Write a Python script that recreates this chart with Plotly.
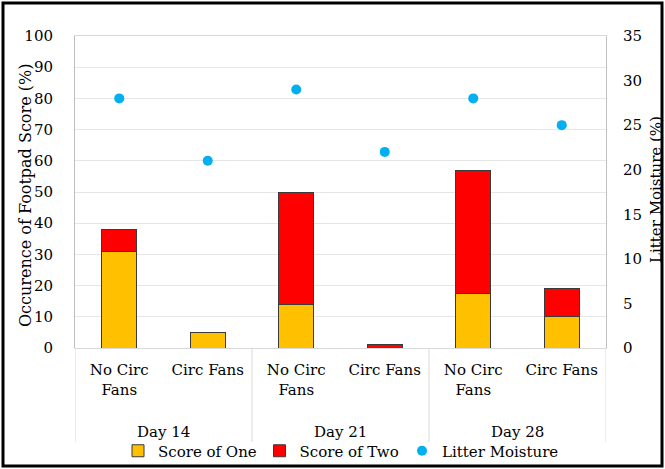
import plotly.graph_objects as go

days = ["Day 14", "Day 21", "Day 28"]
treatments = ["No Circ<br>Fans", "Circ Fans", "No Circ<br>Fans", "Circ Fans", "No Circ<br>Fans", "Circ Fans"]
score_one = [31, 5, 14, 0, 17.5, 10]
score_two = [7, 0, 36, 1, 39.5, 9]
litter_moisture = [28, 21, 29, 22, 28, 25]

FONT = "DejaVu Serif"
pos = list(range(len(treatments)))

fig = go.Figure()
fig.add_trace(go.Bar(x=pos, y=score_one, name="Score of One", legend="legend",
                     marker=dict(color="#FFC000", line=dict(color="#3A3A3A", width=1)),
                     width=0.4))
fig.add_trace(go.Bar(x=pos, y=score_two, name="Score of Two", legend="legend2",
                     marker=dict(color="#FF0000", line=dict(color="#3A3A3A", width=1)),
                     width=0.4))
fig.add_trace(go.Scatter(x=pos, y=litter_moisture, name="Litter Moisture", mode="markers",
                         yaxis="y2", legend="legend3",
                         marker=dict(color="#00B0F0", size=10)))

W, H = 665, 469
L, R, T, B = 75, 59, 36, 121
pw, ph = W - L - R, H - T - B

def px_x(p):
    return (p - L) / pw

def px_y(p):
    return (H - B - p) / ph

n_per_group = len(treatments) // len(days)
annotations = []
shapes = []
for i, d in enumerate(days):
    annotations.append(dict(text=d, x=i * n_per_group + (n_per_group - 1) / 2, xref="x",
                            y=px_y(432), yref="paper", showarrow=False,
                            xanchor="center", yanchor="middle", font=dict(size=15)))
annotations.append(dict(text="Occurence of Footpad Score (%)", textangle=-90,
                        x=px_x(25), xref="paper", y=px_y(196), yref="paper",
                        showarrow=False, xanchor="center", yanchor="middle",
                        font=dict(size=16)))
annotations.append(dict(text="Litter Moisture (%)", textangle=-90,
                        x=px_x(656), xref="paper", y=px_y(190), yref="paper",
                        showarrow=False, xanchor="center", yanchor="middle",
                        font=dict(size=15)))
for k in range(len(days) + 1):
    shapes.append(dict(type="line", xref="x", yref="paper",
                       x0=k * n_per_group - 0.5, x1=k * n_per_group - 0.5,
                       y0=0, y1=px_y(442), line=dict(color="#D9D9D9", width=1)))
shapes.append(dict(type="rect", xref="paper", yref="paper",
                   x0=px_x(3), x1=px_x(662), y0=px_y(466), y1=px_y(3),
                   line=dict(color="black", width=3)))

def leg(cx):
    return dict(orientation="h", x=px_x(cx), xanchor="center", y=px_y(451), yanchor="middle",
                font=dict(size=15), bgcolor="rgba(0,0,0,0)", itemwidth=30)

fig.update_layout(
    width=W, height=H, autosize=False,
    margin=dict(l=L, r=R, t=T, b=B, autoexpand=False),
    barmode="stack",
    paper_bgcolor="white", plot_bgcolor="white",
    font=dict(family=FONT, size=15, color="#000000"),
    showlegend=True,
    legend=leg(190),
    legend2=leg(332),
    legend3=leg(483),
    xaxis=dict(range=[-0.5, len(treatments) - 0.5], tickvals=pos, ticktext=treatments,
               showline=True, linecolor="#D9D9D9", mirror=True, showgrid=False,
               zeroline=False, ticks="", ticklabelstandoff=8, tickfont=dict(size=15)),
    yaxis=dict(range=[0, 100], dtick=10, showgrid=True, gridcolor="#E6E6E6",
               showline=True, linecolor="#BFBFBF", mirror=True, zeroline=False,
               ticks="", ticklabelstandoff=18),
    yaxis2=dict(range=[0, 35], dtick=5, overlaying="y", side="right", showgrid=False,
                zeroline=False, ticks="", ticklabelstandoff=16),
    annotations=annotations,
    shapes=shapes,
)

fig.write_html("out.html",
               config={"responsive": False, "displayModeBar": False},
               post_script="document.body.style.margin='0';document.body.style.overflow='hidden';")
